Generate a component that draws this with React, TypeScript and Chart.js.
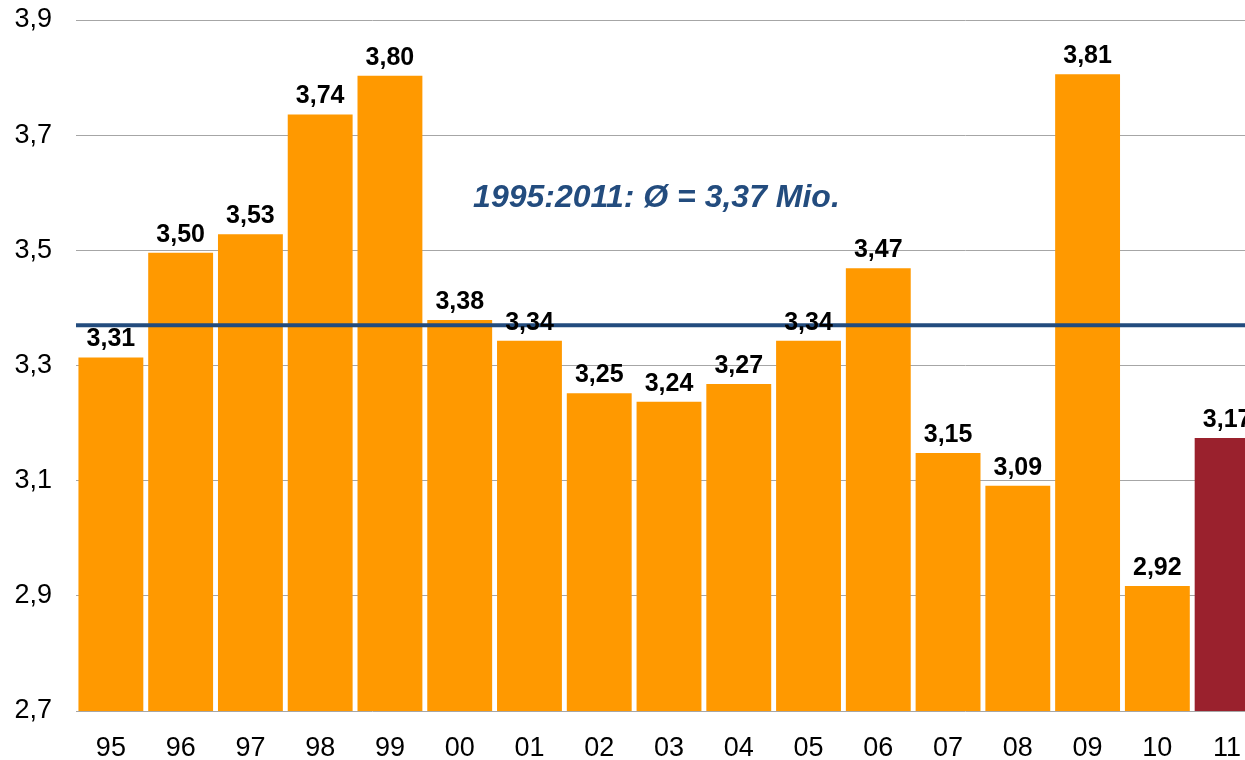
import React, { useEffect, useRef } from "react";
import { Chart, registerables } from "chart.js";

Chart.register(...registerables);

const years = ["95", "96", "97", "98", "99", "00", "01", "02", "03", "04", "05", "06", "07", "08", "09", "10", "11"];
const values = [3.314, 3.496, 3.528, 3.736, 3.803, 3.379, 3.343, 3.252, 3.237, 3.268, 3.343, 3.469, 3.148, 3.091, 3.806, 2.917, 3.174];
const barColors = ["#FF9900", "#FF9900", "#FF9900", "#FF9900", "#FF9900", "#FF9900", "#FF9900", "#FF9900", "#FF9900", "#FF9900", "#FF9900", "#FF9900", "#FF9900", "#FF9900", "#FF9900", "#FF9900", "#9A212D"];
const average = 3.37;
const annotationText = "1995:2011: Ø = 3,37 Mio.";
const annotationAt = { x: 7.82, y: 3.59 };
const yMin = 2.7;
const yMax = 3.9;
const yStep = 0.2;

const fmt = (v: number, d: number) => v.toFixed(d).replace(".", ",");

const overlayPlugin = {
  id: "overlay",
  afterDatasetsDraw(chart: any) {
    const { ctx, chartArea, scales } = chart;
    const xs = scales.x;
    const ys = scales.y;
    ctx.save();
    // average line
    const ya = ys.getPixelForValue(average);
    ctx.strokeStyle = "#234C7E";
    ctx.lineWidth = 4;
    ctx.beginPath();
    ctx.moveTo(chartArea.left, ya);
    ctx.lineTo(chartArea.right, ya);
    ctx.stroke();
    // data labels
    const meta = chart.getDatasetMeta(0);
    ctx.fillStyle = "#000";
    ctx.font = "bold 25px 'Liberation Sans', Arial, sans-serif";
    ctx.textAlign = "center";
    ctx.textBaseline = "alphabetic";
    meta.data.forEach((bar: any, i: number) => {
      ctx.fillText(fmt(values[i], 2), bar.x, bar.y - 11);
    });
    // annotation
    ctx.fillStyle = "#234C7E";
    ctx.font = "italic bold 32px 'Liberation Sans', Arial, sans-serif";
    ctx.textBaseline = "middle";
    ctx.fillText(annotationText, xs.getPixelForValue(annotationAt.x), ys.getPixelForValue(annotationAt.y));
    ctx.restore();
  },
};

export default function App() {
  const ref = useRef<HTMLCanvasElement>(null);
  useEffect(() => {
    document.body.style.margin = "0";
    const chart = new Chart(ref.current as HTMLCanvasElement, {
      type: "bar",
      data: {
        labels: years,
        datasets: [
          {
            data: values,
            backgroundColor: barColors,
            barPercentage: 0.93,
            categoryPercentage: 1,
          },
        ],
      },
      options: {
        responsive: false,
        animation: false,
        layout: { padding: { top: 20, left: 0, right: 0, bottom: 0 } },
        plugins: { legend: { display: false }, tooltip: { enabled: false } },
        scales: {
          x: {
            grid: { display: false, drawTicks: false },
            border: { display: false },
            ticks: {
              color: "#000",
              padding: 21,
              maxRotation: 0,
              font: { family: "'Liberation Sans', Arial, sans-serif", size: 27 },
            },
            afterFit: (s: any) => {
              s.height = 49;
              s.paddingLeft = 0;
              s.paddingRight = 0;
            },
          },
          y: {
            min: yMin,
            max: yMax,
            grid: { color: "#A6A6A6", lineWidth: 1, drawTicks: false },
            border: { display: false },
            ticks: {
              stepSize: yStep,
              color: "#000",
              padding: 24,
              font: { family: "'Liberation Sans', Arial, sans-serif", size: 27 },
              callback: (v: any) => fmt(Number(v), 1),
            },
            afterFit: (s: any) => {
              s.width = 76;
              s.paddingTop = 0;
              s.paddingBottom = 0;
            },
          },
        },
      },
      plugins: [overlayPlugin],
    });
    return () => chart.destroy();
  }, []);
  return (
    <div style={{ width: 1245, height: 760, overflow: "hidden", position: "relative" }}>
      <canvas ref={ref} width={1262} height={760} style={{ display: "block" }} />
    </div>
  );
}
